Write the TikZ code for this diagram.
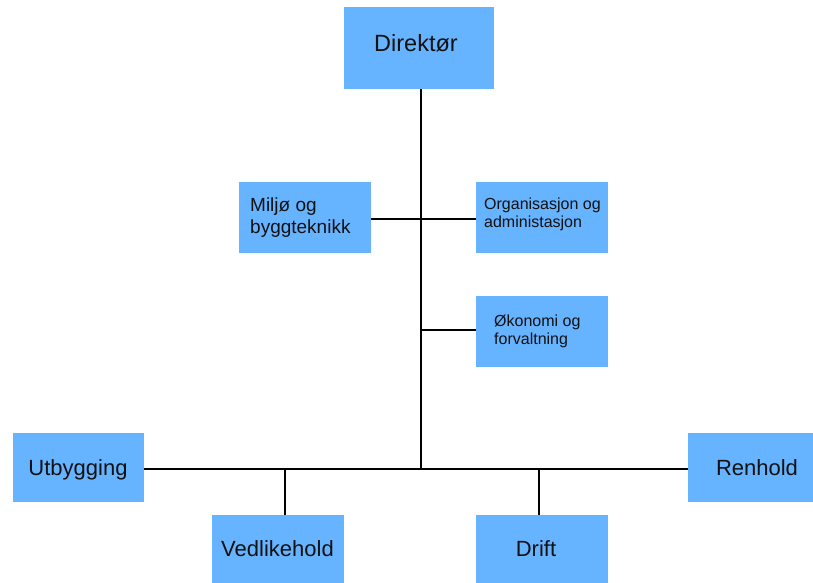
\documentclass[tikz,border=0pt]{standalone}
\usepackage{fontspec}
\setmainfont{Liberation Sans}
\definecolor{boxblue}{RGB}{102,179,255}
\definecolor{ink}{RGB}{17,17,17}
\begin{document}
\begin{tikzpicture}[x=1pt,y=-1pt,
  unit/.style={fill=boxblue, draw=none, inner sep=0pt, anchor=north west},
  biglabel/.style={text=ink, inner sep=0pt, anchor=base, font=\fontsize{22}{26}\selectfont},
  multilabel/.style={text=ink, inner sep=0pt, anchor=base west},
  wire/.style={draw=black, line width=2.7pt}]
\useasboundingbox (0,0) rectangle (813,583);

% boxes
\node[unit, minimum width=150pt, minimum height=82pt] (dir)   at (344,7)   {};
\node[unit, minimum width=132pt, minimum height=71pt] (miljo) at (239,182) {};
\node[unit, minimum width=132pt, minimum height=71pt] (org)   at (476,182) {};
\node[unit, minimum width=132pt, minimum height=71pt] (oko)   at (476,296) {};
\node[unit, minimum width=131pt, minimum height=69pt] (utb)   at (13,433)  {};
\node[unit, minimum width=125pt, minimum height=69pt] (ren)   at (688,433) {};
\node[unit, minimum width=132pt, minimum height=68pt] (ved)   at (212,515) {};
\node[unit, minimum width=132pt, minimum height=68pt] (drift) at (476,515) {};

% labels
\node[biglabel, font=\fontsize{23.5}{28}\selectfont] (dirtext) at (416,52) {Direktør};
\node[biglabel] (utbtext)   at (78,475)    {Utbygging};
\node[biglabel] (rentext)   at (757,475)   {Renhold};
\node[biglabel] (vedtext)   at (277.5,556) {Vedlikehold};
\node[biglabel] (drifttext) at (536,556)   {Drift};
\node[multilabel] (miljotext) at (250,211)
  {\parbox[t]{120pt}{\fontsize{19}{22}\selectfont\raggedright Miljø og\\byggteknikk}};
\node[multilabel] (orgtext) at (484,209)
  {\parbox[t]{124pt}{\fontsize{16}{18}\selectfont\raggedright Organisasjon og\\administasjon}};
\node[multilabel] (okotext) at (494,326)
  {\parbox[t]{110pt}{\fontsize{16}{18}\selectfont\raggedright Økonomi og\\forvaltning}};

% connectors: one spine from the top box, branches off it
\coordinate (hub) at (421,469);
\coordinate (upper) at (421,219);
\coordinate (middle) at (421,330);
\coordinate (vedtap) at (285,469);
\coordinate (drifttap) at (539,469);
\draw[wire] (dir.south -| hub) -- (hub);
\draw[wire] (upper -| miljo.east) -- (upper -| org.west);
\draw[wire] (middle) -- (middle -| oko.west);
\draw[wire] (hub -| utb.east) -- (hub -| ren.west);
\draw[wire] (vedtap) -- (vedtap |- ved.north);
\draw[wire] (drifttap) -- (drifttap |- drift.north);
\end{tikzpicture}
\end{document}
